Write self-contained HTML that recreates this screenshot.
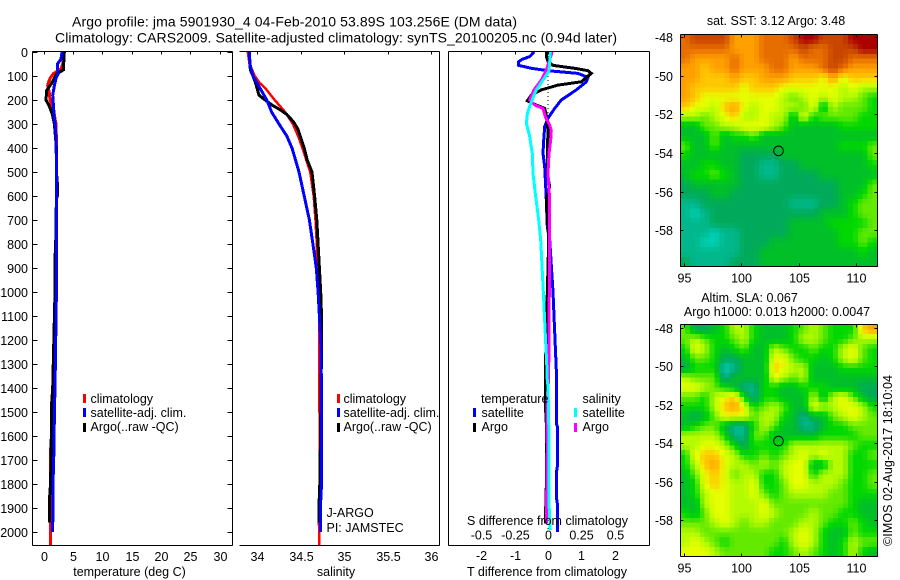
<!DOCTYPE html>
<html>
<head>
<meta charset="utf-8">
<title>Argo profile</title>
<style>
html,body{margin:0;padding:0;background:#fff;width:900px;height:580px;overflow:hidden}
svg{display:block}
text{font-family:"Liberation Sans",sans-serif;font-size:12.5px;fill:#000}
</style>
</head>
<body>
<svg id="chart" xmlns="http://www.w3.org/2000/svg" width="900" height="580" viewBox="0 0 900 580">
  <rect x="0" y="0" width="900" height="580" fill="#fff"/>
  <g id="map-layer"></g>
  <g id="line-layer"></g>
  <g id="axis-layer"></g>

  <text x="72" y="26.5" style="font-size:14px" textLength="445" lengthAdjust="spacing">Argo profile: jma 5901930_4 04-Feb-2010 53.89S 103.256E (DM data)</text>
  <text x="55" y="42.5" style="font-size:14px" textLength="562" lengthAdjust="spacing">Climatology: CARS2009. Satellite-adjusted climatology: synTS_20100205.nc (0.94d later)</text>

  <text x="129.5" y="576" text-anchor="middle">temperature (deg C)</text>
  <text x="336" y="576" text-anchor="middle">salinity</text>
  <text x="547" y="576" text-anchor="middle">T difference from climatology</text>
  <text x="547.5" y="525" text-anchor="middle">S difference from climatology</text>

  <rect x="83" y="394" width="3" height="9" fill="#f00"/>
  <text x="90.5" y="403">climatology</text>
  <rect x="83" y="408" width="3" height="9" fill="#00f"/>
  <text x="90.5" y="417">satellite-adj. clim.</text>
  <rect x="83" y="423" width="3" height="9" fill="#000"/>
  <text x="90.5" y="431">Argo(..raw -QC)</text>

  <rect x="337" y="394" width="3" height="9" fill="#f00"/>
  <text x="343.5" y="403">climatology</text>
  <rect x="337" y="408" width="3" height="9" fill="#00f"/>
  <text x="343.5" y="417">satellite-adj. clim.</text>
  <rect x="337" y="423" width="3" height="9" fill="#000"/>
  <text x="343.5" y="431">Argo(..raw -QC)</text>

  <text x="326.5" y="517">J-ARGO</text>
  <text x="326.5" y="532">PI: JAMSTEC</text>

  <text x="481" y="403">temperature</text>
  <rect x="473" y="408" width="3" height="9" fill="#00f"/>
  <text x="481.5" y="417">satellite</text>
  <rect x="473" y="423" width="3" height="9" fill="#000"/>
  <text x="481.5" y="431">Argo</text>
  <text x="582.5" y="403">salinity</text>
  <rect x="574" y="408" width="3" height="9" fill="#0ff"/>
  <text x="582.5" y="417">satellite</text>
  <rect x="574" y="423" width="3" height="9" fill="#f0f"/>
  <text x="582.5" y="431">Argo</text>

  <text x="776" y="25" text-anchor="middle">sat. SST: 3.12 Argo: 3.48</text>
  <text x="749.5" y="302" text-anchor="middle">Altim. SLA: 0.067</text>
  <text x="777" y="316" text-anchor="middle">Argo h1000: 0.013 h2000: 0.0047</text>
  <text transform="translate(892,546) rotate(-90)" x="0" y="0" textLength="171" lengthAdjust="spacing">©IMOS 02-Aug-2017 18:10:04</text>
</svg>

<script>
// ---------- Profile data ----------
const depthTicks = [0,100,200,300,400,500,600,700,800,900,1000,1100,1200,1300,1400,1500,1600,1700,1800,1900,2000];
const tempTicks = [0,5,10,15,20,25,30];
const salTicks = [34,34.5,35,35.5,36];
const salTickLabels = ['34','34.5','35','35.5','36'];
const tDiffTicks = [-2,-1,0,1,2];
const tDiffTickLabels = ['-2','-1','0','1','2'];
const sDiffTicks = [-0.5,-0.25,0,0.25,0.5];
const sDiffTickLabels = ['-0.5','-0.25','0','0.25','0.5'];
const lonTicks = [95,100,105,110];
const latTicks = [-48,-50,-52,-54,-56,-58];

const tempClimDepth = [0,50,70,90,110,130,140,170,200,240,300,400,500,1000,1400,1640,1650,1960,2054];
const tempClimValue = [3.55,3.27,2.98,1.68,1.1,0.82,0.71,0.99,1.1,1.68,2.13,2.24,2.19,2.13,1.75,1.6,1.22,1.2,1.22];
const tempArgoDepth = [0,75,90,130,160,200,225,260,300,400,500,550,600,610,800,860,1000,1400,1460,1700,1800,1850,1960];
const tempArgoValue = [3.55,3.38,2.24,1.39,0.54,0.43,0.99,1.5,1.85,2.19,2.19,2.36,2.36,2.19,2.07,1.96,1.96,1.56,1.39,1.28,1.2,1.05,1.05];
const tempSatDepth = [0,30,50,70,90,110,140,180,220,280,320,450,1000,1400,1500,1650,1800,2000];
const tempSatValue = [3.15,2.98,2.36,2.36,2.53,2.13,1.85,1.56,1.68,1.85,2.07,2.19,2.19,1.96,1.85,1.79,1.62,1.56];

const salClimDepth = [0,50,100,130,150,200,250,300,350,400,500,600,700,800,900,1000,1400,1800,1950,2054];
const salClimValue = [33.89,33.91,33.97,34.03,34.09,34.2,34.32,34.41,34.47,34.52,34.61,34.65,34.67,34.685,34.69,34.71,34.715,34.72,34.71,34.715];
const salArgoDepth = [0,50,75,100,130,180,200,220,240,260,290,320,400,450,500,600,700,800,900,1000,1100,1200,1400,1800,1900,1960];
const salArgoValue = [33.91,33.915,33.92,33.95,33.98,34.02,34.09,34.165,34.26,34.34,34.415,34.465,34.54,34.575,34.63,34.66,34.685,34.7,34.715,34.73,34.74,34.74,34.735,34.72,34.71,34.71];
const salSatDepth = [0,50,100,150,200,250,300,350,400,450,500,600,700,800,900,1000,1100,1200,1400,1800,1900,2000];
const salSatValue = [33.91,33.915,33.95,34.03,34.11,34.165,34.25,34.34,34.4,34.44,34.48,34.54,34.6,34.64,34.68,34.7,34.715,34.73,34.74,34.74,34.727,34.727];

const tDiffSatDepth = [0,19,31,40,56,68,78,89,106,124,158,200,235,276,311,367,422,478,561,617,728,783,1000,1325,1547,1561,1728,1756,1853,1880,2000];
const tDiffSatValue = [-0.42,-0.55,-0.78,-0.88,-0.88,-0.5,0,0.9,1.2,1.15,0.85,0.4,0.2,0,-0.1,-0.13,-0.15,-0.1,-0.07,-0.05,-0.02,0.05,0.15,0.25,0.25,0.28,0.28,0.25,0.25,0.28,0.28];
const tDiffArgoDepth = [0,19,40,56,68,78,89,106,124,138,158,179,203,221,235,263,328,422,506,561,617,783,1325,1464,1547,1811,1964];
const tDiffArgoValue = [-0.05,-0.05,0,0.15,0.8,1.2,1.3,1.15,1.0,0.3,-0.2,-0.5,-0.62,-0.35,-0.1,-0.05,0,-0.02,-0.02,0.05,-0.05,0.02,-0.08,-0.08,-0.05,-0.05,-0.08];
const sDiffArgoDepth = [0,33,75,117,158,200,221,235,269,304,328,367,422,506,617,783,1325,1353,1464,1658,1964];
const sDiffArgoValue = [0.03,0.0125,-0.0125,-0.05,-0.105,-0.1375,-0.1,-0.0375,-0.02,0.0125,0.025,0.02,0.0075,0,0.0125,0.0125,0.005,0.005,-0.0075,-0.005,-0.0125];
const sDiffSatDepth = [0,47,82,158,214,256,297,353,422,506,589,700,783,1000,1325,1353,1394,1603,1880,1992];
const sDiffSatValue = [0.0175,0.0125,0.005,-0.0875,-0.13,-0.155,-0.1625,-0.1375,-0.1175,-0.1125,-0.095,-0.07,-0.055,-0.035,-0.0075,-0.0075,0,0.0075,0.0075,0.0175];

const floatLon = 103.256;
const floatLat = -53.89;

// ---------- Heatmap levels (rows north to south, columns west to east) ----------
const sstGrid = [
[10,11,11,11,11,9,9,9,10,10,10,11,12,12,11,11,11,12,12,12],
[10,10,10,10,10,9,9,9,10,10,10,10,11,10,10,11,11,11,12,12],
[10,9,9,9,9,10,9,9,10,10,10,9,10,10,10,11,11,10,10,10],
[9,9,8,9,9,10,9,9,9,10,10,9,9,9,10,11,10,9,9,9],
[9,9,8,8,8,9,8,8,9,9,9,8,8,8,7,9,7,8,8,8],
[9,8,8,8,8,8,7,8,8,8,7,7,7,7,7,7,6,7,6,6],
[9,8,7,7,7,7,7,7,7,7,6,5,6,7,6,7,6,6,5,4],
[8,7,7,6,8,9,7,6,7,7,6,6,5,7,3,6,5,5,5,4],
[6,6,5,6,7,8,6,6,7,6,6,3,7,4,5,5,5,5,4,4],
[3,3,5,5,6,6,7,7,7,6,5,3,3,3,3,3,4,4,4,4],
[3,3,3,5,3,4,4,5,3,3,3,3,3,3,3,3,3,3,3,3],
[5,3,3,5,3,3,3,3,3,3,3,3,3,3,3,3,4,4,4,5],
[4,3,3,3,3,3,2,2,2,2,3,3,3,3,3,3,3,3,3,5],
[3,3,4,4,3,3,2,2,1,1,2,2,3,3,3,3,3,3,3,4],
[3,4,4,5,4,3,2,2,1,1,2,2,2,2,3,3,3,3,3,3],
[2,3,3,3,3,3,2,2,2,2,2,2,2,2,2,2,3,3,3,5],
[2,2,2,3,3,2,2,2,2,2,2,2,2,2,2,2,3,3,4,5],
[1,1,2,2,2,2,2,2,2,2,2,1,1,1,2,2,3,4,5,5],
[1,0,1,2,2,2,2,2,2,2,2,2,2,2,3,3,3,4,5,5],
[1,1,1,2,2,2,2,2,2,2,2,3,3,3,3,4,4,4,4,5],
[1,1,1,0,1,1,2,2,2,2,2,3,3,3,3,3,4,4,5,5],
[1,1,0,0,1,1,2,2,2,3,3,3,3,3,3,3,4,4,5,4],
[1,1,1,1,1,1,2,2,3,3,3,3,3,3,3,3,3,3,4,3],
[2,1,1,1,1,2,2,2,3,3,3,3,3,3,3,3,3,3,3,3]
];
const slaGrid = [
[5,2,2,3,4,6,6,4,3,3,3,4,5,6,5,4,4,4,8,9],
[5,6,5,4,4,5,6,4,3,3,3,4,6,6,5,4,4,5,6,6],
[4,7,6,4,3,4,5,3,3,6,5,4,4,5,4,4,6,7,5,4],
[3,5,5,4,2,2,3,3,3,7,7,5,4,4,3,4,6,7,5,4],
[2,4,4,4,0,1,3,3,3,8,7,6,6,3,3,3,4,4,4,4],
[6,5,5,5,1,3,3,3,3,7,6,5,6,3,3,3,3,3,3,3],
[7,7,6,5,4,3,1,1,4,4,3,3,4,4,4,3,3,3,2,2],
[5,5,4,6,7,8,4,1,4,4,3,3,3,6,3,6,7,5,3,2],
[4,4,4,6,8,9,7,4,5,6,5,3,3,7,6,6,7,7,6,4],
[3,2,3,5,7,7,7,5,6,6,4,3,1,3,3,5,6,7,6,5],
[3,4,5,5,3,1,1,4,6,5,3,3,1,1,3,4,4,5,5,5],
[6,6,6,6,4,1,1,5,5,3,3,3,3,3,4,4,4,4,5,5],
[6,6,7,7,6,4,2,4,4,4,4,6,6,6,6,6,6,5,4,4],
[4,7,8,8,7,6,4,4,5,4,5,6,7,6,7,6,6,4,4,5],
[4,6,8,9,7,6,6,5,6,5,6,7,7,3,3,6,6,4,4,4],
[3,5,7,8,7,5,6,6,4,4,6,7,7,4,6,6,6,4,4,5],
[3,4,7,8,7,6,6,7,4,4,5,7,7,6,6,6,5,4,4,5],
[3,4,6,7,7,6,6,7,5,4,5,6,6,6,6,5,5,4,4,4],
[3,3,6,7,7,6,6,6,7,5,5,5,5,5,5,5,5,4,3,3],
[4,3,5,7,7,6,6,6,7,6,5,5,5,6,5,5,4,4,3,3],
[5,5,5,6,7,6,5,6,6,5,5,5,6,6,5,4,4,5,4,3],
[6,6,5,5,5,5,5,5,5,5,5,6,7,6,4,3,3,5,4,4],
[6,7,6,5,4,5,5,5,5,5,4,6,7,6,4,3,4,6,5,5],
[7,7,7,6,5,5,5,5,5,4,4,5,6,5,4,3,4,6,4,3]
];

// Colour lookup for heatmap levels 0..12 (r,g,b)
const levelColors = [[0,208,180],[0,184,140],[0,170,90],[0,191,40],[0,216,0],[100,234,0],[180,250,0],[230,255,0],[255,200,0],[255,160,0],[230,110,0],[200,70,0],[170,0,0]];

// ---------- Helpers ----------
const NS = 'http://www.w3.org/2000/svg';
const lineLayer = document.getElementById('line-layer');
const axisLayer = document.getElementById('axis-layer');
const mapLayer = document.getElementById('map-layer');

function make(parent, tag, attrs) {
  const el = document.createElementNS(NS, tag);
  for (const k in attrs) el.setAttribute(k, attrs[k]);
  parent.appendChild(el);
  return el;
}
function yDepth(d) { return 52 + 0.24 * d; }
function xTemp(t) { return 43.5 + 5.87 * t; }
function xSal(s) { return 257.3 + 86.8 * (s - 34); }
function xTDiff(t) { return 548 + 33.3 * t; }
function xSDiff(s) { return 548 + 133.2 * s; }
function xLon(lon) { return 684 + 11.45 * (lon - 95); }
function ySstLat(lat) { return 37 + 19.33 * (-48 - lat); }
function ySlaLat(lat) { return 327.7 + 19.25 * (-48 - lat); }

function drawLine(name, depths, values, xFn, color, width) {
  const pts = depths.map((d, i) => xFn(values[i]).toFixed(1) + ',' + yDepth(d).toFixed(1)).join(' ');
  const el = make(lineLayer, 'polyline', {points: pts, fill: 'none', stroke: color, 'stroke-width': width, 'shape-rendering': 'crispEdges'});
  
  
}
function seg(x1, y1, x2, y2, name) {
  const el = make(axisLayer, 'line', {x1: x1, y1: y1, x2: x2, y2: y2, stroke: '#000', 'stroke-width': 1, 'shape-rendering': 'crispEdges'});
  
  
}
function label(x, y, str, anchor, name) {
  const el = make(axisLayer, 'text', {x: x, y: y, 'text-anchor': anchor});
  el.textContent = str;
  
  
}
function levelColor(v) {
  const lo = Math.max(0, Math.min(levelColors.length - 1, Math.floor(v)));
  const hi = Math.min(levelColors.length - 1, lo + 1);
  const f = Math.max(0, Math.min(1, v - lo));
  const a = levelColors[lo], b = levelColors[hi];
  return 'rgb(' + [0, 1, 2].map(i => Math.round(a[i] + (b[i] - a[i]) * f)).join(',') + ')';
}
function sampleGrid(grid, r, c) {
  const rows = grid.length, cols = grid[0].length;
  const cr = Math.max(0, Math.min(rows - 1, r)), cc = Math.max(0, Math.min(cols - 1, c));
  const r0 = Math.floor(cr), c0 = Math.floor(cc);
  const r1 = Math.min(rows - 1, r0 + 1), c1 = Math.min(cols - 1, c0 + 1);
  const fr = cr - r0, fc = cc - c0;
  const top = grid[r0][c0] * (1 - fc) + grid[r0][c1] * fc;
  const bot = grid[r1][c0] * (1 - fc) + grid[r1][c1] * fc;
  return top * (1 - fr) + bot * fr;
}

// ---------- Heatmaps ----------
function drawMap(name, grid, left, top, right, bottom, sub) {
  const rows = grid.length * sub, cols = grid[0].length * sub;
  const w = (right - left) / cols, h = (bottom - top) / rows;
  for (let r = 0; r < rows; r++) {
    for (let c = 0; c < cols; c++) {
      const v = sampleGrid(grid, (r + 0.5) / sub - 0.5, (c + 0.5) / sub - 0.5);
      const rect = make(mapLayer, 'rect', {
        x: (left + c * w).toFixed(2), y: (top + r * h).toFixed(2),
        width: (w + 0.5).toFixed(2), height: (h + 0.5).toFixed(2),
        fill: levelColor(v), 'shape-rendering': 'crispEdges'
      });
      
      
    }
  }
}
drawMap('sst-map', sstGrid, 680, 34.5, 877.5, 266.5, 2);
drawMap('sla-map', slaGrid, 680, 324.5, 877.5, 556.5, 2);

function mapFrame(prefix, top, bottom, yLat) {
  const left = 680.5, right = 877.5;
  seg(left, top, right, top, prefix + '-frame-top');
  seg(left, bottom, right, bottom, prefix + '-frame-bottom');
  seg(left, top, left, bottom, prefix + '-frame-left');
  seg(right, top, right, bottom, prefix + '-frame-right');
  lonTicks.forEach(v => {
    const x = Math.round(xLon(v)) + 0.5;
    seg(x, top, x, top + 3, prefix + '-top-tick');
    seg(x, bottom - 3, x, bottom, prefix + '-bottom-tick');
    label(x, bottom + 16, String(v), 'middle', prefix + '-lon-label');
  });
  latTicks.forEach(v => {
    const y = Math.round(yLat(v)) + 0.5;
    seg(left, y, left + 3, y, prefix + '-left-tick');
    seg(right - 3, y, right, y, prefix + '-right-tick');
    label(673, y + 4.5, String(v), 'end', prefix + '-lat-label');
  });
  const mark = make(axisLayer, 'circle', {cx: xLon(floatLon), cy: yLat(floatLat), r: 4.8, fill: 'none', stroke: '#000', 'stroke-width': 1});
  
  
}
mapFrame('sst-map', 34.5, 266.5, ySstLat);
mapFrame('sla-map', 324.5, 556.5, ySlaLat);

// ---------- Profile axes ----------
const top0 = 51.5, bottom0 = 545.5;
// temperature panel
seg(32.5, top0, 232.5, top0, 'temperature-frame-top');
seg(32.5, bottom0, 232.5, bottom0, 'temperature-frame-bottom');
seg(32.5, top0, 32.5, bottom0, 'temperature-frame-left');
seg(232.5, top0, 232.5, bottom0, 'temperature-frame-right');
depthTicks.forEach(d => {
  const y = Math.round(yDepth(d)) + 0.5;
  seg(32.5, y, 37.5, y, 'depth-left-tick');
  seg(227.5, y, 232.5, y, 'depth-right-tick');
  label(28, y + 4.5, String(d), 'end', 'depth-tick-label');
});
tempTicks.forEach(v => {
  const x = Math.round(xTemp(v)) + 0.5;
  seg(x, top0, x, top0 + 3, 'temperature-top-tick');
  label(x, 561, String(v), 'middle', 'temperature-tick-label');
});
// salinity panel
seg(239.5, top0, 439.5, top0, 'salinity-frame-top');
seg(239.5, bottom0, 439.5, bottom0, 'salinity-frame-bottom');
seg(439.5, top0, 439.5, bottom0, 'salinity-frame-right');
salTicks.forEach((v, i) => {
  const x = Math.round(xSal(v)) + 0.5;
  seg(x, top0, x, top0 + 3, 'salinity-top-tick');
  label(x, 561, salTickLabels[i], 'middle', 'salinity-tick-label');
});
// difference panel
seg(448.5, top0, 649.5, top0, 'difference-frame-top');
seg(448.5, bottom0, 649.5, bottom0, 'difference-frame-bottom');
seg(448.5, top0, 448.5, bottom0, 'difference-frame-left');
seg(649.5, top0, 649.5, bottom0, 'difference-frame-right');
tDiffTicks.forEach((v, i) => {
  const x = Math.round(xTDiff(v)) + 0.5;
  seg(x, top0, x, top0 + 3, 'difference-top-tick');
  label(x, 560, tDiffTickLabels[i], 'middle', 't-difference-tick-label');
});
sDiffTicks.forEach((v, i) => {
  label(Math.round(xSDiff(v)) + 0.5, 539.5, sDiffTickLabels[i], 'middle', 's-difference-tick-label');
});

// ---------- Profile lines ----------
drawLine('temperature-climatology-line', tempClimDepth, tempClimValue, xTemp, '#f00', 3);
drawLine('temperature-argo-line', tempArgoDepth, tempArgoValue, xTemp, '#000', 3);
drawLine('temperature-satellite-line', tempSatDepth, tempSatValue, xTemp, '#00f', 3);

drawLine('salinity-climatology-line', salClimDepth, salClimValue, xSal, '#f00', 2.5);
drawLine('salinity-argo-line', salArgoDepth, salArgoValue, xSal, '#000', 3);
drawLine('salinity-satellite-line', salSatDepth, salSatValue, xSal, '#00f', 3);

const zeroLine = make(lineLayer, 'line', {x1: xTDiff(0), y1: yDepth(0), x2: xTDiff(0), y2: yDepth(2000), stroke: '#000', 'stroke-width': 1, 'stroke-dasharray': '1 3', 'shape-rendering': 'crispEdges'});



drawLine('t-difference-satellite-line', tDiffSatDepth, tDiffSatValue, xTDiff, '#00f', 3);
drawLine('t-difference-argo-line', tDiffArgoDepth, tDiffArgoValue, xTDiff, '#000', 3);
drawLine('s-difference-argo-line', sDiffArgoDepth, sDiffArgoValue, xSDiff, '#f0f', 3);
drawLine('s-difference-satellite-line', sDiffSatDepth, sDiffSatValue, xSDiff, '#0ff', 3);
</script>
</body>
</html>
